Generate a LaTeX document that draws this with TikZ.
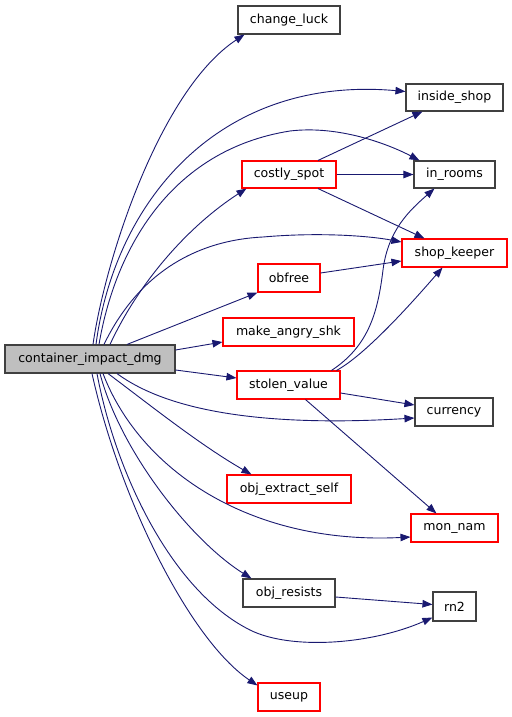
\documentclass[tikz,border=0pt]{standalone}
\usepackage{fontspec}
\setmainfont{DejaVu Sans}
\usetikzlibrary{arrows.meta,calc}
\definecolor{edgec}{HTML}{191970}
\definecolor{boxgray}{HTML}{404040}
\definecolor{mainfill}{HTML}{BFBFBF}
\definecolor{boxred}{HTML}{FF0000}
\begin{document}
\begin{tikzpicture}[x=1bp,y=-1bp,
  fn/.style={draw=boxgray, line width=1.1bp, fill=white, inner sep=0pt,
    minimum height=28bp, font=\fontsize{12.6}{14}\selectfont},
  fnred/.style={fn, draw=boxred},
  fnmain/.style={fn, fill=mainfill},
  call/.style={draw=edgec, line width=0.9bp,
    -{Triangle[length=10bp,width=7.5bp]}, fill=none},
]
\useasboundingbox (0,0) rectangle (512,717);
% nodes
\node[fnmain, minimum width=170bp] (main) at (90,359) {container\_impact\_dmg};
\node[fn, minimum width=102bp] (change) at (289,20) {change\_luck};
\node[fn, minimum width=97bp, minimum height=27bp] (inside) at (454.5,97.5) {inside\_shop};
\node[fn, minimum width=81bp, minimum height=27bp] (rooms) at (454.5,174.5) {in\_rooms};
\node[fnred, minimum width=94bp, minimum height=27bp] (costly) at (289,174.5) {costly\_spot};
\node[fnred, minimum width=105bp] (shk) at (454.5,253) {shop\_keeper};
\node[fnred, minimum width=62bp] (obfree) at (289,278) {obfree};
\node[fnred, minimum width=131bp] (angry) at (288.5,332) {make\_angry\_shk};
\node[fnred, minimum width=103bp] (stolen) at (288.5,385) {stolen\_value};
\node[fn, minimum width=78bp] (currency) at (454,412) {currency};
\node[fnred, minimum width=124bp] (extract) at (289,489) {obj\_extract\_self};
\node[fnred, minimum width=87bp] (monnam) at (454.5,528) {mon\_nam};
\node[fn, minimum width=92bp] (resists) at (289,593) {obj\_resists};
\node[fn, minimum width=43bp, minimum height=29bp] (rn2) at (454.5,606.5) {rn2};
\node[fnred, minimum width=62bp] (useup) at (289,697) {useup};
% edges from main (top)
\draw[call] ($(main.north)+(3,0)$) .. controls (105,260) and (160,90) .. ($(change.south west)+(7,0)$);
\draw[call] ($(main.north)+(6,0)$) .. controls (115,200) and (220,75) .. ($(inside.west)+(0,-6)$);
\draw[call] ($(main.north)+(9,0)$) .. controls (115,250) and (170,150) .. (290,131)
   .. controls (340,125) and (390,145) .. ($(rooms.north west)+(6,0)$);
\draw[call] ($(main.north)+(14,0)$) .. controls (140,270) and (200,240) .. (263,237)
   .. controls (320,232) and (370,236) .. ($(shk.west)+(0,-11)$);
\draw[call] ($(main.north)+(20,0)$) .. controls (140,280) and (190,225) .. ($(costly.south west)+(5,0)$);
\draw[call] ($(main.north)+(37,0)$) -- (obfree.south west);
% edges from main (side)
\draw[call] ($(main.east)+(0,-9)$) -- ($(angry.west)+(0,10)$);
\draw[call] ($(main.east)+(0,11)$) -- ($(stolen.west)+(0,-7)$);
% edges from main (bottom)
\draw[call] ($(main.south)+(27,0)$) .. controls (180,420) and (300,425) .. ($(currency.west)+(0,6)$);
\draw[call] ($(main.south)+(18,0)$) .. controls (150,405) and (200,445) .. ($(extract.north west)+(25,0)$);
\draw[call] ($(main.south)+(13,0)$) .. controls (140,470) and (250,545) .. ($(monnam.west)+(0,9)$);
\draw[call] ($(main.south)+(10,0)$) .. controls (120,450) and (190,540) .. ($(resists.north west)+(9,0)$);
\draw[call] ($(main.south)+(7,0)$) .. controls (115,470) and (170,590) .. (250,630)
   .. controls (290,650) and (370,645) .. ($(rn2.south west)+(0,-4)$);
\draw[call] ($(main.south)+(2,0)$) .. controls (120,500) and (190,640) .. ($(useup.north west)+(0,3)$);
% other edges
\draw[call] ($(costly.north)+(29,0)$) -- ($(inside.south west)+(17,0)$);
\draw[call] (costly.east) -- (rooms.west);
\draw[call] ($(costly.south)+(29,0)$) -- ($(shk.north west)+(23,0)$);
\draw[call] ($(obfree.east)+(0,-5)$) -- ($(shk.west)+(0,8)$);
\draw[call] ($(stolen.north)+(43,0)$) .. controls (370,345) and (378,310) .. (383,270)
   .. controls (388,230) and (410,210) .. ($(rooms.south west)+(21,0)$);
\draw[call] ($(stolen.north)+(48,0)$) .. controls (365,355) and (410,305) .. ($(shk.south)+(-12,0)$);
\draw[call] ($(stolen.east)+(0,8)$) -- ($(currency.west)+(0,-7)$);
\draw[call] ($(stolen.south)+(17,0)$) -- ($(monnam.north west)+(26,0)$);
\draw[call] ($(resists.east)+(0,4)$) -- ($(rn2.west)+(0,-2)$);
\end{tikzpicture}
\end{document}
